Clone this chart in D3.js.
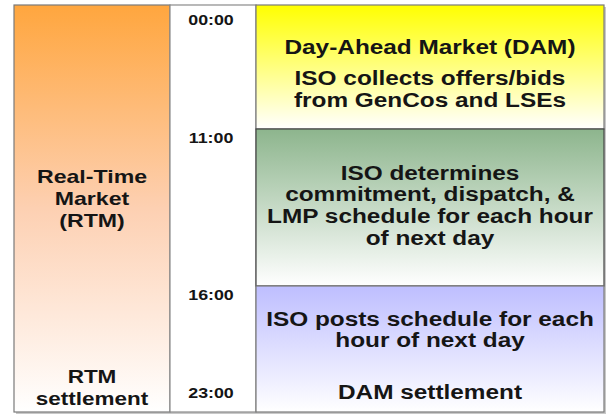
<!DOCTYPE html>
<html lang="en">
<head>
<meta charset="UTF-8">
<title>DAM / RTM timeline</title>
<script src="https://cdnjs.cloudflare.com/ajax/libs/d3/7.8.5/d3.min.js"></script>
<style>
html, body { margin: 0; padding: 0; background: #fff; }
svg { display: block; }
text { font-family: "Liberation Sans", Arial, sans-serif; font-weight: bold; fill: #151515; }
</style>
</head>
<body>
<div id="chart"></div>
<script>
// time marks shown in the middle column
var timeLabels = ["00:00", "11:00", "16:00", "23:00"];
var timeHours = [0, 11, 16, 23];

// Day-ahead market phases (right column)
var phaseStart = [0, 11, 16];
var phaseEnd = [11, 16, 24];
var phaseTop = ["#ffff00", "#8db58d", "#bebeff"];
var phaseTitle = ["Day-Ahead Market (DAM)", "", ""];
var phaseLines = [
  ["ISO collects offers/bids", "from GenCos and LSEs"],
  ["ISO determines", "commitment, dispatch, &", "LMP schedule for each hour", "of next day"],
  ["ISO posts schedule for each", "hour of next day"]
];
var phaseFoot = ["", "", "DAM settlement"];

// real-time market (left column)
var rtmLines = ["Real-Time", "Market", "(RTM)"];
var rtmFoot = ["RTM", "settlement"];

var W = 613, H = 416;
var left = 14, right = 604;
var colA = 170, colB = 256;

// hours -> vertical position (the slide is not to scale, so piecewise)
var y = d3.scaleLinear()
  .domain([0, 11, 16, 24])
  .range([5, 129, 286, 412]);

var svg = d3.select("#chart").append("svg")
  .attr("width", W).attr("height", H);

var defs = svg.append("defs");
function grad(id, top, mid) {
  var g = defs.append("linearGradient").attr("id", id)
    .attr("x1", 0).attr("y1", 0).attr("x2", 0).attr("y2", 1);
  g.append("stop").attr("offset", "0%").attr("stop-color", top);
  if (mid) g.append("stop").attr("offset", "50%").attr("stop-color", mid);
  g.append("stop").attr("offset", "100%").attr("stop-color", "#ffffff");
}
grad("g-rtm", "#ffa63e", "#fdd0b2");
phaseTop.forEach(function (c, i) { grad("g-p" + i, c); });

var SX = 1.25;   // text on the slide is stretched sideways
var LH = 21.7;

function lines(g, arr, cx, cy, size) {
  var n = arr.length;
  arr.forEach(function (s, i) {
    if (!s) return;
    g.append("text")
      .attr("transform", "translate(" + cx + "," + (cy + (i - (n - 1) / 2) * LH) + ") scale(" + SX + ",1)")
      .attr("text-anchor", "middle")
      .attr("dominant-baseline", "central")
      .style("font-size", size + "px")
      .text(s);
  });
}

// soft shadow of the frame
svg.append("rect")
  .attr("x", left + 2).attr("y", y(0) + 2)
  .attr("width", right - left).attr("height", y(24) - y(0))
  .attr("fill", "#c8c8c8");

// left column: RTM
svg.append("rect")
  .attr("x", left).attr("y", y(0))
  .attr("width", colA - left).attr("height", y(24) - y(0))
  .attr("fill", "url(#g-rtm)")
  .attr("stroke", "#7a7a7a").attr("stroke-width", 1.2);

// middle column: times
svg.append("rect")
  .attr("x", colA).attr("y", y(0))
  .attr("width", colB - colA).attr("height", y(24) - y(0))
  .attr("fill", "#fff")
  .attr("stroke", "#8a8a8a").attr("stroke-width", 1.2);

// right column: DAM phases
var ph = svg.selectAll("g.phase")
  .data(phaseStart.map(function (s, i) { return { i: i, s: s, e: phaseEnd[i] }; }))
  .enter().append("g").attr("class", "phase");

ph.append("rect")
  .attr("x", colB).attr("y", function (d) { return y(d.s); })
  .attr("width", right - colB)
  .attr("height", function (d) { return y(d.e) - y(d.s); })
  .attr("fill", function (d) { return "url(#g-p" + d.i + ")"; })
  .attr("stroke", function (d) { return d.i == 1 ? "#444" : "#7a7a7a"; })
  .attr("stroke-width", 1.2);

var cxR = (colB + right) / 2;
ph.each(function (d) {
  var g = d3.select(this);
  var top = y(d.s), bot = y(d.e);
  if (d.i == 0) {
    lines(g, [phaseTitle[0]], cxR, top + 42, 19.5);
    lines(g, phaseLines[0], cxR, top + 84.5, 19.5);
  } else if (d.i == 1) {
    lines(g, phaseLines[1], cxR, (top + bot) / 2 - 2, 19.5);
  } else {
    lines(g, phaseLines[2], cxR, top + 44, 19.5);
    lines(g, [phaseFoot[2]], cxR, bot - 20, 19.5);
  }
});

// times
svg.selectAll("text.time")
  .data(timeHours)
  .enter().append("text")
  .attr("class", "time")
  .attr("transform", function (h, i) {
    var ty = i == 0 ? y(h) + 15 : (i == 3 ? y(h) - 3 : y(h) + 9);
    return "translate(" + ((colA + colB) / 2 - 2) + "," + ty + ") scale(1.15,1)";
  })
  .attr("text-anchor", "middle")
  .attr("dominant-baseline", "central")
  .style("font-size", "15.5px")
  .text(function (h, i) { return timeLabels[i]; });

// RTM text
var cxL = (left + colA) / 2;
var gl = svg.append("g");
lines(gl, rtmLines, cxL, (y(0) + y(24)) / 2 - 10, 18.5);
lines(gl, rtmFoot, cxL, y(24) - 24, 18);
</script>
</body>
</html>
